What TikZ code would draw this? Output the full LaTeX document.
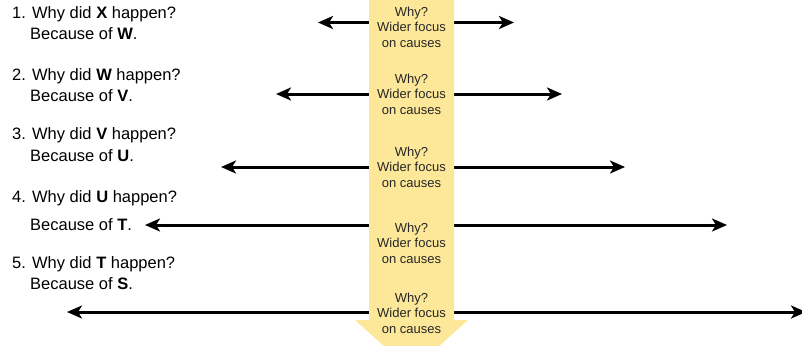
\documentclass[tikz,border=0pt]{standalone}
\usepackage{fontspec}
\setmainfont{Liberation Sans}
\usetikzlibrary{arrows.meta}
\definecolor{focusyellow}{RGB}{253,232,153}
\tikzset{
  widen/.style={line width=3pt, {Stealth[length=15pt,width=13pt,inset=4pt]}-{Stealth[length=15pt,width=13pt,inset=4pt]}},
  question/.style={anchor=base west, inner sep=0pt, font=\fontsize{16.5}{19}\selectfont},
  focus/.style={align=center, inner sep=0pt, font=\fontsize{13}{15.5}\selectfont, text=black!85},
}
\begin{document}
\begin{tikzpicture}[x=1pt, y=-1pt]
\useasboundingbox (0,0) rectangle (802,345);
\clip (0,0) rectangle (802,345);

% ends of the horizontal double arrows
\coordinate (l1) at (318,22.5);  \coordinate (r1) at (514,22.5);
\coordinate (l2) at (276,94);    \coordinate (r2) at (562,94);
\coordinate (l3) at (221,167);   \coordinate (r3) at (625,167);
\coordinate (l4) at (145,225);   \coordinate (r4) at (727,225);
\coordinate (l5) at (67,312);    \coordinate (r5) at (806,312);
\foreach \i in {1,...,5} \draw[widen] (l\i) -- (r\i);

% the wide downward arrow
\fill[focusyellow] (369,0) -- (454,0) -- (454,320) -- (468,320)
  -- (411.5,371) -- (355,320) -- (369,320) -- cycle;

% labels on the downward arrow
\node[focus] (w1) at (411.5,27)  {Why?\\Wider focus\\on causes};
\node[focus] (w2) at (411.5,94)  {Why?\\Wider focus\\on causes};
\node[focus] (w3) at (411.5,167) {Why?\\Wider focus\\on causes};
\node[focus] (w4) at (411.5,243) {Why?\\Wider focus\\on causes};
\node[focus] (w5) at (411.5,313) {Why?\\Wider focus\\on causes};

% questions and answers
\node[question] (q1) at (12,18.5)  {1. Why did \textbf{X} happen?};
\node[question] (a1) at (30,40)    {Because of \textbf{W}.};
\node[question] (q2) at (12,80.5)  {2. Why did \textbf{W} happen?};
\node[question] (a2) at (30,101)   {Because of \textbf{V}.};
\node[question] (q3) at (12,139)   {3. Why did \textbf{V} happen?};
\node[question] (a3) at (30,161.5) {Because of \textbf{U}.};
\node[question] (q4) at (12,202)   {4. Why did \textbf{U} happen?};
\node[question] (a4) at (30,230)   {Because of \textbf{T}.};
\node[question] (q5) at (12,268.5) {5. Why did \textbf{T} happen?};
\node[question] (a5) at (30,289)   {Because of \textbf{S}.};
\end{tikzpicture}
\end{document}
